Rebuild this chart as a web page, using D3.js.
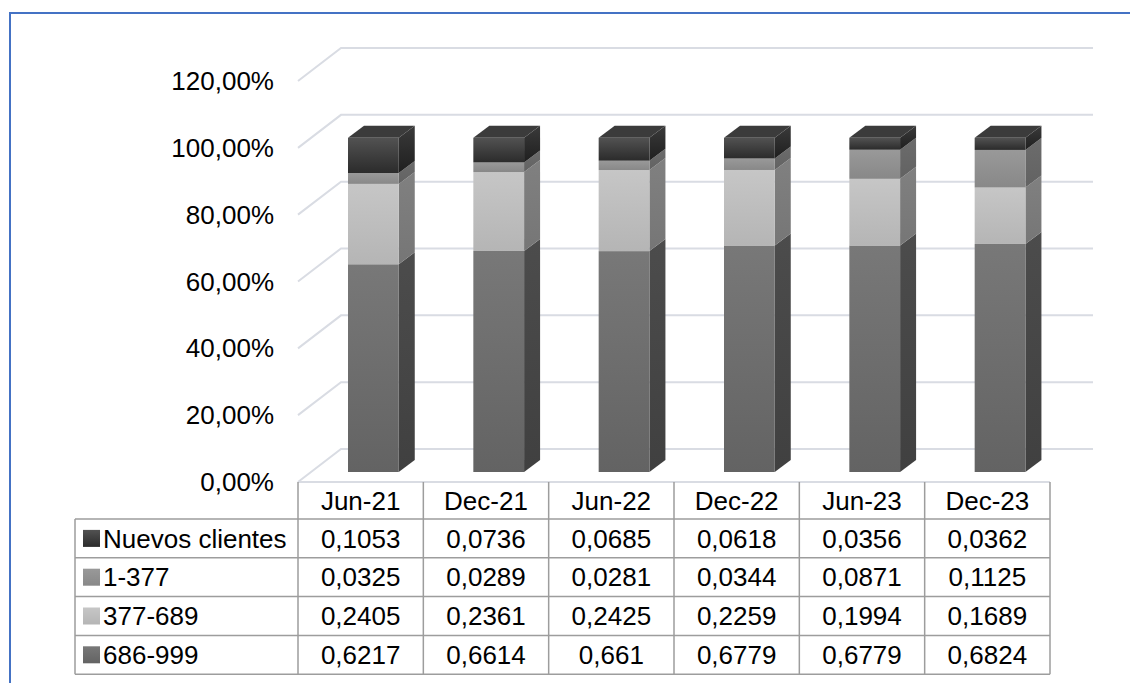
<!DOCTYPE html>
<html>
<head>
<meta charset="utf-8">
<script src="https://cdn.jsdelivr.net/npm/d3@7"></script>
<style>
  body { margin: 0; background: #fff; }
  svg { display: block; font-family: "Liberation Sans", Arial, sans-serif; }
</style>
</head>
<body>
<svg id="chart" width="1130" height="683"></svg>
<script>
// periods shown on the category axis / table header
const categories = ['Jun-21', 'Dec-21', 'Jun-22', 'Dec-22', 'Jun-23', 'Dec-23'];
// series in table order (top of stack first)
const seriesNames = ['Nuevos clientes', '1-377', '377-689', '686-999'];
const nuevosClientes = [0.1053, 0.0736, 0.0685, 0.0618, 0.0356, 0.0362];
const r1to377 = [0.0325, 0.0289, 0.0281, 0.0344, 0.0871, 0.1125];
const r377to689 = [0.2405, 0.2361, 0.2425, 0.2259, 0.1994, 0.1689];
const r686to999 = [0.6217, 0.6614, 0.661, 0.6779, 0.6779, 0.6824];
const yTicks = [0, 0.2, 0.4, 0.6, 0.8, 1.0, 1.2];

const seriesValues = [nuevosClientes, r1to377, r377to689, r686to999];

// front top, front bottom, side top, side bottom
const shades = {
  'Nuevos clientes': ['#525252', '#2b2b2b', '#3a3a3a', '#1f1f1f'],
  '1-377': ['#999999', '#888888', '#6c6c6c', '#626262'],
  '377-689': ['#c6c6c6', '#b5b5b5', '#808080', '#767676'],
  '686-999': ['#787878', '#636363', '#4c4c4c', '#404040']
};
const topColor = '#3b3b3b';
const gridColor = '#d9dce3';
const tableLine = '#9d9d9d';
const fontSize = 26;

// 3D offsets: wall depth, bar front offset, bar depth
const wall = { dx: 43, dy: -33 };
const barShift = { dx: 13, dy: -10 };
const barDepth = { dx: 16, dy: -12 };

const svg = d3.select('#chart');
const defs = svg.append('defs');
seriesNames.forEach((s, i) => {
  const c = shades[s];
  const gf = defs.append('linearGradient')
    .attr('id', 'gf' + i).attr('x1', 0).attr('y1', 0).attr('x2', 0).attr('y2', 1);
  gf.append('stop').attr('offset', '0%').attr('stop-color', c[0]);
  gf.append('stop').attr('offset', '100%').attr('stop-color', c[1]);
  const gs = defs.append('linearGradient')
    .attr('id', 'gs' + i).attr('x1', 0).attr('y1', 0).attr('x2', 0).attr('y2', 1);
  gs.append('stop').attr('offset', '0%').attr('stop-color', c[2]);
  gs.append('stop').attr('offset', '100%').attr('stop-color', c[3]);
});

// outer blue frame (cropped on right and bottom)
svg.append('rect')
  .attr('x', 10).attr('y', 13).attr('width', 1200).attr('height', 800)
  .attr('fill', 'none').attr('stroke', '#4472c4').attr('stroke-width', 2);

const x = d3.scaleBand().domain(categories).range([298, 1050]).padding(0);
const y = d3.scaleLinear().domain([0, 1.2]).range([482, 81]);

// back wall gridlines with the left-wall diagonal
const fmtPct = d => d3.format('.2f')(d * 100).replace('.', ',') + '%';
const grid = svg.append('g');
grid.selectAll('path')
  .data(yTicks)
  .join('path')
  .attr('d', d => {
    const yf = y(d);
    return `M${298},${yf}L${298 + wall.dx},${yf + wall.dy}L1093,${yf + wall.dy}`;
  })
  .attr('fill', 'none')
  .attr('stroke', gridColor)
  .attr('stroke-width', 2);

// floor front edge
svg.append('line')
  .attr('x1', 298).attr('x2', 1050).attr('y1', y(0)).attr('y2', y(0))
  .attr('stroke', gridColor).attr('stroke-width', 2);

// y labels
svg.append('g').selectAll('text')
  .data(yTicks)
  .join('text')
  .attr('x', 274)
  .attr('y', d => y(d))
  .attr('dy', '0.35em')
  .attr('text-anchor', 'end')
  .attr('font-size', fontSize)
  .attr('fill', '#000')
  .text(fmtPct);

// stacked data, bottom series first
const rows = categories.map((c, j) => {
  const o = { cat: c };
  seriesNames.forEach((s, i) => { o[s] = seriesValues[i][j]; });
  return o;
});
const stackOrder = seriesNames.slice().reverse();
const stacked = d3.stack().keys(stackOrder)(rows);

const barW = x.bandwidth() * 0.405;
const barLeft = c => x(c) + 50;
const yb = v => y(v) + barShift.dy;

const bars = svg.append('g');
stacked.forEach(layer => {
  const si = seriesNames.indexOf(layer.key);
  const g = bars.append('g');
  // side face
  g.selectAll('path.side')
    .data(layer)
    .join('path')
    .attr('class', 'side')
    .attr('d', d => {
      const x1 = barLeft(d.data.cat) + barW;
      const t = yb(d[1]);
      const b = yb(d[0]);
      return `M${x1},${t}L${x1 + barDepth.dx},${t + barDepth.dy}L${x1 + barDepth.dx},${b + barDepth.dy}L${x1},${b}Z`;
    })
    .attr('fill', `url(#gs${si})`);
  // front face
  g.selectAll('rect.front')
    .data(layer)
    .join('rect')
    .attr('class', 'front')
    .attr('x', d => barLeft(d.data.cat))
    .attr('y', d => yb(d[1]))
    .attr('width', barW)
    .attr('height', d => yb(d[0]) - yb(d[1]))
    .attr('fill', `url(#gf${si})`);
});

// top face of each stack
const topLayer = stacked[stacked.length - 1];
bars.append('g').selectAll('path')
  .data(topLayer)
  .join('path')
  .attr('d', d => {
    const x0 = barLeft(d.data.cat);
    const t = yb(d[1]);
    return `M${x0},${t}L${x0 + barDepth.dx},${t + barDepth.dy}L${x0 + barW + barDepth.dx},${t + barDepth.dy}L${x0 + barW},${t}Z`;
  })
  .attr('fill', topColor);

// data table
const tableTop = y(0);
const headerH = 37;
const rowH = 38.8;
const tableLeft = 75;
const tableRight = x.range()[1];
const bodyTop = tableTop + headerH;
const tableBottom = bodyTop + rowH * seriesNames.length;

const table = svg.append('g')
  .attr('stroke', tableLine)
  .attr('stroke-width', 1.5);

// column separators
table.selectAll('line.col')
  .data(categories.concat(['end']))
  .join('line')
  .attr('class', 'col')
  .attr('x1', (d, i) => i < categories.length ? x(d) : tableRight)
  .attr('x2', (d, i) => i < categories.length ? x(d) : tableRight)
  .attr('y1', tableTop)
  .attr('y2', tableBottom);

// row separators
table.selectAll('line.row')
  .data(d3.range(seriesNames.length + 1))
  .join('line')
  .attr('class', 'row')
  .attr('x1', tableLeft)
  .attr('x2', tableRight)
  .attr('y1', i => bodyTop + i * rowH)
  .attr('y2', i => bodyTop + i * rowH);

table.append('line')
  .attr('x1', tableLeft).attr('x2', tableLeft)
  .attr('y1', bodyTop).attr('y2', tableBottom);

// header text
svg.append('g').selectAll('text')
  .data(categories)
  .join('text')
  .attr('x', d => x(d) + x.bandwidth() / 2)
  .attr('y', tableTop + headerH / 2)
  .attr('dy', '0.35em')
  .attr('text-anchor', 'middle')
  .attr('font-size', fontSize)
  .text(d => d);

// legend cells and values
const body = svg.append('g');
seriesNames.forEach((s, i) => {
  const cy = bodyTop + i * rowH + rowH / 2;
  body.append('rect')
    .attr('x', 83).attr('y', cy - 8.5)
    .attr('width', 17).attr('height', 17)
    .attr('fill', `url(#gf${i})`);
  body.append('text')
    .attr('x', 103).attr('y', cy).attr('dy', '0.35em')
    .attr('font-size', fontSize)
    .text(s);
  body.selectAll(null)
    .data(seriesValues[i].map((v, j) => ({ v, c: categories[j] })))
    .join('text')
    .attr('x', d => x(d.c) + x.bandwidth() / 2)
    .attr('y', cy)
    .attr('dy', '0.35em')
    .attr('text-anchor', 'middle')
    .attr('font-size', fontSize)
    .text(d => String(d.v).replace('.', ','));
});
</script>
</body>
</html>
